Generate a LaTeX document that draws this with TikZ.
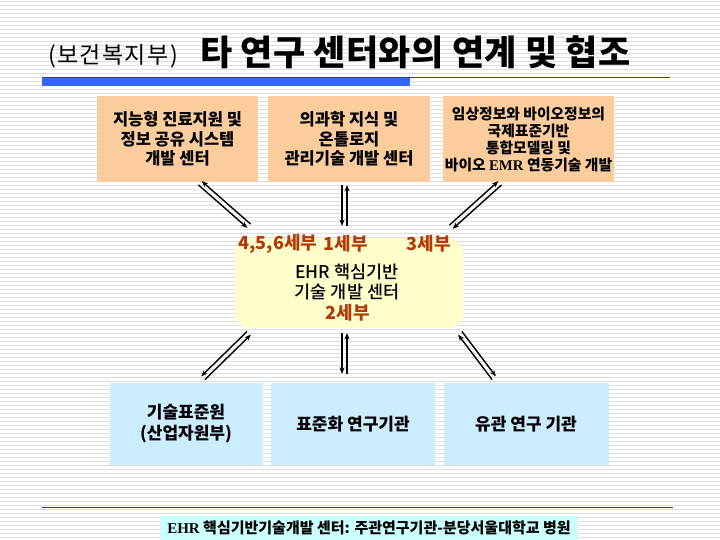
\documentclass[tikz,border=0pt]{standalone}
\usepackage{fontspec}
\setmainfont{Noto Sans CJK KR}
\newfontfamily\latinserif{Liberation Serif}
\newfontfamily\medfont{Noto Sans CJK KR Medium}
\usetikzlibrary{arrows.meta}
\definecolor{stripe}{RGB}{222,222,222}
\definecolor{peach}{RGB}{251,204,156}
\definecolor{paleyellow}{RGB}{255,255,204}
\definecolor{paleblue}{RGB}{204,236,255}
\definecolor{palecyan}{RGB}{204,255,255}
\definecolor{brownred}{RGB}{178,58,10}
\definecolor{barblue}{RGB}{51,102,255}
\definecolor{lineblue}{RGB}{60,60,150}
\tikzset{
  topbox/.style={fill=peach, inner sep=0pt, align=center, font=\fontsize{16.5}{19.5}\selectfont\bfseries},
  botbox/.style={fill=paleblue, inner sep=0pt, align=center, font=\fontsize{17}{21}\selectfont\bfseries},
  centerbox/.style={fill=paleyellow, rounded corners=16pt, inner sep=0pt},
  seblabel/.style={text=brownred, font=\fontsize{18}{20}\selectfont\bfseries, inner sep=0pt},
  lnk/.style={line width=1.4pt, -{Stealth[length=6.5pt,width=5pt]}},
}
\begin{document}
\begin{tikzpicture}[x=1pt,y=-1pt]
\useasboundingbox (0,0) rectangle (720,540);
\fill[white] (0,0) rectangle (720,540);
\foreach \i in {0,...,134} \draw[stripe, line width=1.2pt] (0,\i*4+1.5) -- (720,\i*4+1.5);

% title
\node[anchor=base west, inner sep=0pt] (sub) at (48,64) {\fontsize{23}{26}\selectfont\addfontfeature{LetterSpace=6}(보건복지부)};
\node[anchor=base west, inner sep=0pt] (title) at (200,66) {\fontsize{35}{40}\selectfont\bfseries\addfontfeature{LetterSpace=1}타 연구 센터와의 연계 및 협조};
\fill[barblue] (42,77) rectangle (410,86);
\draw[lineblue, line width=1pt] (42,77.5) -- (670,77.5);

% top boxes
\node[topbox, minimum width=161pt, minimum height=86pt] (t1) at (177.5,139) {지능형 진료지원 및\\정보 공유 시스템\\개발 센터};
\node[topbox, minimum width=162pt, minimum height=86pt] (t2) at (349,139) {의과학 지식 및\\온톨로지\\관리기술 개발 센터};
\node[topbox, minimum width=171pt, minimum height=86pt, font=\fontsize{14.8}{17}\selectfont\bfseries] (t3) at (528.5,139) {임상정보와 바이오정보의\\국제표준기반\\통합모델링 및\\바이오 {\latinserif EMR} 연동기술 개발};

% center box
\node[centerbox, minimum width=228pt, minimum height=90pt] (c) at (349,283) {};
\node[seblabel] (s456) at (278,244) {4,5,6세부};
\node[seblabel] (s1) at (346,244) {1세부};
\node[seblabel] (s3) at (429,244) {3세부};
\node[inner sep=0pt, align=center, font=\fontsize{17.5}{20.5}\selectfont\medfont] (cm) at (347,282) {EHR 핵심기반\\기술 개발 센터};
\node[seblabel] (s2) at (348,313) {2세부};

% bottom boxes
\node[botbox, minimum width=153pt, minimum height=82pt] (b1) at (186,424) {기술표준원\\(산업자원부)};
\node[botbox, minimum width=164pt, minimum height=82pt] (b2) at (353,424) {표준화 연구기관};
\node[botbox, minimum width=165pt, minimum height=82pt] (b3) at (526,424) {유관 연구 기관};

% footnote
\draw[lineblue, line width=0.8pt] (42,507) -- (673,507);
\node[fill=palecyan, minimum width=418pt, minimum height=25pt, inner sep=0pt, font=\fontsize{15}{17}\selectfont\bfseries] (foot) at (369,528) {{\latinserif EHR} 핵심기반기술개발 센터: 주관연구기관-분당서울대학교 병원};

% arrow end points
\coordinate (a1) at (200,183); \coordinate (a2) at (249,226);
\coordinate (b1p) at (344.5,185); \coordinate (b2p) at (344.5,226);
\coordinate (c1) at (500,183); \coordinate (c2) at (451,227);
\coordinate (d1) at (249,333); \coordinate (d2) at (203,378);
\coordinate (e1) at (344.5,333); \coordinate (e2) at (344.5,374);
\coordinate (f1) at (460,333); \coordinate (f2) at (494,378);

% double arrows
\draw[lnk] ([shift={(-1.6,1.9)}]a1) -- ([shift={(-1.6,1.9)}]a2);
\draw[lnk] ([shift={(1.6,-1.9)}]a2) -- ([shift={(1.6,-1.9)}]a1);
\draw[lnk] ([xshift=-2.5pt]b1p) -- ([xshift=-2.5pt]b2p);
\draw[lnk] ([xshift=2.5pt]b2p) -- ([xshift=2.5pt]b1p);
\draw[lnk] ([shift={(1.6,1.9)}]c1) -- ([shift={(1.6,1.9)}]c2);
\draw[lnk] ([shift={(-1.6,-1.9)}]c2) -- ([shift={(-1.6,-1.9)}]c1);
\draw[lnk] ([shift={(-1.9,-1.6)}]d1) -- ([shift={(-1.9,-1.6)}]d2);
\draw[lnk] ([shift={(1.9,1.6)}]d2) -- ([shift={(1.9,1.6)}]d1);
\draw[lnk] ([xshift=-2.5pt]e1) -- ([xshift=-2.5pt]e2);
\draw[lnk] ([xshift=2.5pt]e2) -- ([xshift=2.5pt]e1);
\draw[lnk] ([shift={(1.9,-1.6)}]f1) -- ([shift={(1.9,-1.6)}]f2);
\draw[lnk] ([shift={(-1.9,1.6)}]f2) -- ([shift={(-1.9,1.6)}]f1);
\end{tikzpicture}
\end{document}
